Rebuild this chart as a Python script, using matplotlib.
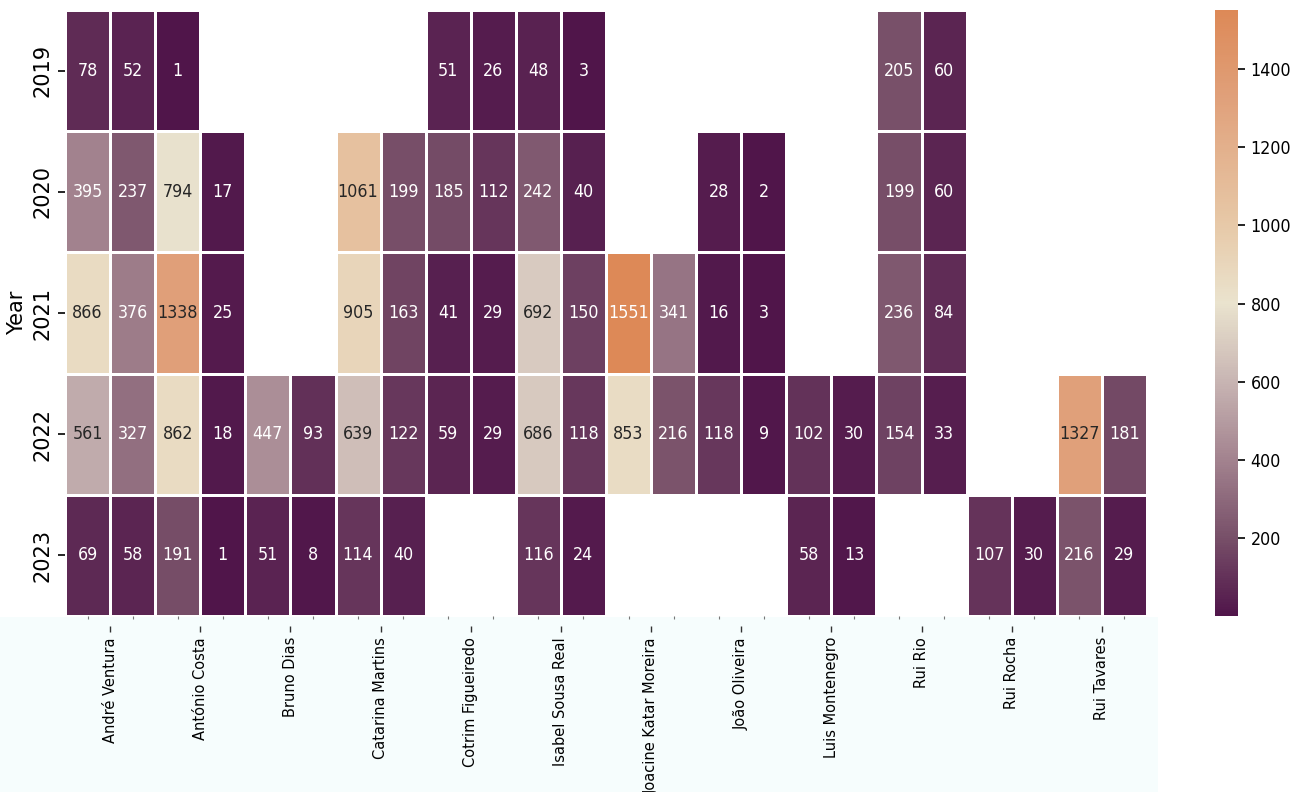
import numpy as np
import pandas as pd
import matplotlib
matplotlib.use("Agg")
import matplotlib.pyplot as plt
import seaborn as sns
from matplotlib.colors import LinearSegmentedColormap
from matplotlib.patches import Rectangle
from matplotlib import font_manager as fm

N = np.nan
years = ["2019", "2020", "2021", "2022", "2023"]
politicians = ["André Ventura", "António Costa", "Bruno Dias", "Catarina Martins",
               "Cotrim Figueiredo", "Isabel Sousa Real", "Joacine Katar Moreira",
               "João Oliveira", "Luis Montenegro", "Rui Rio", "Rui Rocha", "Rui Tavares"]
v2019 = [78, 52, 1, N, N, N, N, N, 51, 26, 48, 3, N, N, N, N, N, N, 205, 60, N, N, N, N]
v2020 = [395, 237, 794, 17, N, N, 1061, 199, 185, 112, 242, 40, N, N, 28, 2, N, N, 199, 60, N, N, N, N]
v2021 = [866, 376, 1338, 25, N, N, 905, 163, 41, 29, 692, 150, 1551, 341, 16, 3, N, N, 236, 84, N, N, N, N]
v2022 = [561, 327, 862, 18, 447, 93, 639, 122, 59, 29, 686, 118, 853, 216, 118, 9, 102, 30, 154, 33, N, N, 1327, 181]
v2023 = [69, 58, 191, 1, 51, 8, 114, 40, N, N, 116, 24, N, N, N, N, 58, 13, N, N, 107, 30, 216, 29]

data = pd.DataFrame([v2019, v2020, v2021, v2022, v2023], index=years)

# pick the narrowest available sans face for horizontal numbers
pref = ["LiberationSansNarrow-Regular", "DejaVuSansCondensed.ttf", "Roboto-Regular",
        "Roboto[", "Roboto", "DejaVuSans.ttf"]
files = [f.fname for f in fm.fontManager.ttflist]
chosen = None
for p in pref:
    for fn in files:
        if p in fn.split("/")[-1] and "Bold" not in fn and "Italic" not in fn:
            chosen = fn
            break
    if chosen:
        break

W, H = 1304, 792
fig = plt.figure(figsize=(W/100, H/100), dpi=100)
renderer = fig.canvas.get_renderer()
if chosen:
    probe_fp = fm.FontProperties(fname=chosen, size=10)
else:
    probe_fp = fm.FontProperties(family="DejaVu Sans", size=10)
probe = fig.text(0, 0, "1338", fontproperties=probe_fp)
wpx = probe.get_window_extent(renderer).width
probe.remove()
num_size = min(15.0, 10 * 40.5 / wpx)
num_fp = probe_fp.copy()
num_fp.set_size(num_size)

stops = [(0.0, "#50154A"), (200/1550, "#785069"), (400/1550, "#A3838F"),
         (600/1550, "#C8B5B3"), (800/1550, "#EAE3CE"), (1000/1550, "#E7C9A8"),
         (1200/1550, "#E3B08C"), (1330/1550, "#E0A07A"), (1.0, "#DD8957")]
cmap = LinearSegmentedColormap.from_list("custom", stops)

fig.patches.append(Rectangle((0, 0), 1158/W, (H-617)/H, transform=fig.transFigure,
                             facecolor="#F6FDFD", edgecolor="none", zorder=-5))

ax = fig.add_axes([65/W, 1-616/H, (1147-65)/W, 606/H])
cax = fig.add_axes([1215/W, 1-616/H, 23/W, 606/H])

sns.heatmap(data, ax=ax, cbar_ax=cax, cmap=cmap, annot=True, fmt=".0f",
            linewidths=1, linecolor="white")
for t in ax.texts:
    t.set_fontproperties(num_fp)

ax.set_xticks(np.arange(data.shape[1]) + 0.5)
ax.set_xticklabels([])
ax.tick_params(axis="x", length=2, color="#777777", width=0.8)
ax.set_xlabel("")
ax.set_yticks(np.arange(len(years)) + 0.5)
ax.set_yticklabels(years, rotation=90, va="center", fontsize=15, family="DejaVu Sans")
ax.tick_params(axis="y", length=5, width=1.2, pad=4)
ax.set_ylabel("Year", fontsize=15, labelpad=4)

sec = ax.secondary_xaxis(-10/606)
sec.set_xticks(np.arange(len(politicians)) * 2 + 1.0)
sec.set_xticklabels(politicians, rotation=90, fontsize=10.5)
sec.tick_params(axis="x", length=4, width=1, pad=4, color="#333333")
sec.spines["bottom"].set_visible(False)

for t in cax.get_yticklabels():
    t.set_fontproperties(num_fp)
cax.tick_params(length=5, width=1.2, pad=4)

fig.savefig("out.png", dpi=100, facecolor="white")
